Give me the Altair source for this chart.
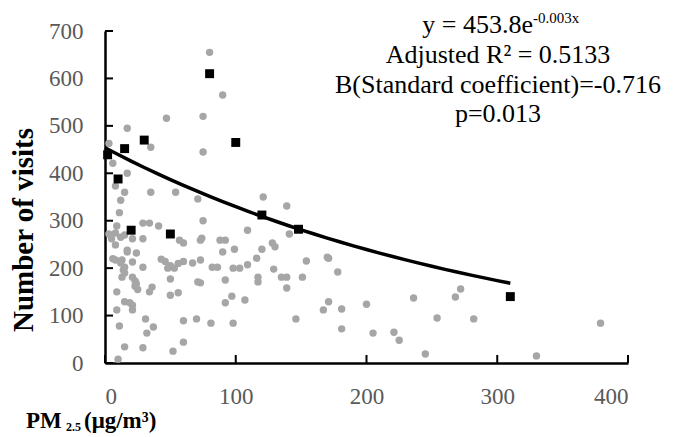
import altair as alt
import pandas as pd

# Gray scatter points (PM2.5, visits)
gray_x = [80, 90, 75, 47, 17, 3, 35, 75, 6, 17, 8, 15, 35, 54, 71, 12, 121, 139, 11, 75, 9, 29, 34, 41, 109, 141,
          3, 8, 15, 21, 29, 5, 12, 74, 88, 92, 57, 60, 73, 99, 90, 128, 130, 120, 116, 8, 17, 24, 17, 6, 13, 43, 8, 12,
          15, 21, 29, 46, 50, 53, 56, 60, 48, 67, 73, 82, 86, 98, 103, 109, 129, 135, 139, 151, 154, 171, 170, 178, 117,
          117, 139, 92, 71, 73, 50, 21, 23, 24, 23, 25, 13, 14, 15, 36, 34, 9, 15, 21, 19, 9, 21, 50, 56, 97, 92, 107,
          31, 37, 11, 60, 70, 81, 98, 32, 60, 15, 29, 52, 10, 146, 167, 171, 181, 181, 200, 205, 221, 225, 236, 254, 245,
          268, 272, 282, 330, 379]
gray_y = [655, 565, 520, 516, 495, 463, 455, 445, 421, 400, 373, 360, 360, 360, 346, 343, 350, 331, 317, 300, 289, 295,
          295, 289, 280, 272, 272, 274, 270, 262, 262, 262, 265, 263, 259, 259, 259, 253, 259, 240, 234, 253, 245, 240,
          221, 249, 238, 232, 234, 220, 217, 219, 217, 211, 202, 213, 202, 214, 205, 200, 210, 214, 200, 211, 217, 202,
          202, 200, 200, 207, 198, 181, 181, 181, 215, 221, 223, 192, 181, 171, 158, 175, 171, 169, 177, 181, 173, 167,
          162, 155, 181, 196, 190, 160, 150, 150, 129, 122, 127, 112, 112, 143, 148, 141, 127, 133, 93, 76, 78, 89, 93,
          84, 84, 63, 44, 34, 32, 25, 8, 93, 112, 129, 114, 72, 124, 63, 65, 48, 137, 95, 19, 139, 156, 93, 15, 84]

# Black square points
black_x = [2, 10, 15, 20, 30, 50, 80, 100, 120, 148, 310]
black_y = [439, 388, 452, 280, 470, 272, 610, 465, 312, 282, 140]

# Fitted curve y = a * exp(b * x) (b as drawn; label shows it rounded)
fit_a = 453.8
fit_b = -0.0032
fit_x_max = 310

y_ticks = [0, 100, 200, 300, 400, 500, 600, 700]
x_ticks = [0, 100, 200, 300, 400]

W, H = 523, 332
SERIF = "Liberation Serif"

gray_df = pd.DataFrame({"x": gray_x, "y": gray_y})
black_df = pd.DataFrame({"x": black_x, "y": black_y})

xs = alt.Scale(domain=[0, 400], nice=False)
ys = alt.Scale(domain=[0, 700], nice=False)

xaxis = alt.Axis(values=x_ticks, ticks=False, grid=False, domainColor="black", domainWidth=2.5,
                 labelFont=SERIF, labelFontSize=23, labelColor="#595959", labelPadding=22, title=None)
yaxis = alt.Axis(values=y_ticks, ticks=False, grid=False, domainColor="black", domainWidth=2.5,
                 labelFont=SERIF, labelFontSize=23, labelColor="#595959", labelPadding=22, title=None)

gray = alt.Chart(gray_df).mark_circle(size=55, color="#A6A6A6", opacity=1).encode(
    x=alt.X("x:Q", scale=xs, axis=xaxis),
    y=alt.Y("y:Q", scale=ys, axis=yaxis),
)

curve = alt.Chart(alt.sequence(0, fit_x_max + 1, 10, as_="x")).transform_calculate(
    y=f"{fit_a} * exp({fit_b} * datum.x)"
).mark_line(color="black", strokeWidth=3.5).encode(
    x=alt.X("x:Q", scale=xs), y=alt.Y("y:Q", scale=ys)
)

black = alt.Chart(black_df).mark_square(size=80, color="black", opacity=1).encode(
    x=alt.X("x:Q", scale=xs), y=alt.Y("y:Q", scale=ys)
)

yt = alt.Chart(pd.DataFrame({"v": y_ticks})).mark_rule(color="black", strokeWidth=2).encode(
    y=alt.Y("v:Q", scale=ys), x=alt.value(0), x2=alt.value(8)
)
xt = alt.Chart(pd.DataFrame({"v": x_ticks})).mark_rule(color="black", strokeWidth=2).encode(
    x=alt.X("v:Q", scale=xs), y=alt.value(H), y2=alt.value(H - 8)
)

def txt(s, x, y, size, align="left", weight="normal", angle=0):
    return alt.Chart(pd.DataFrame({"t": [s]})).mark_text(
        font=SERIF, fontSize=size, align=align, baseline="alphabetic", fontWeight=weight, color="black",
        angle=angle
    ).encode(text="t:N", x=alt.value(x), y=alt.value(y))

cx = 393
annot = [
    txt("y = 453.8e", 428, 2, 26, align="right"),
    txt("-0.003x", 428, -8, 15, align="left"),
    txt("Adjusted R² = 0.5133", cx, 32, 26, align="center"),
    txt("B(Standard coefficient)=-0.716", cx, 62, 26, align="center"),
    txt("p=0.013", cx, 91, 26, align="center"),
    txt("Number of visits", -72, 199, 29, align="center", weight="bold", angle=270),
    txt("PM", -79, 397, 23, weight="bold"),
    txt("2.5", -39, 400, 12, weight="bold"),
    txt("(μg/m³)", -21, 397, 23, weight="bold"),
]

chart = alt.layer(gray, curve, black, yt, xt, *annot).properties(
    width=W, height=H,
    autosize=alt.AutoSizeParams(type="none"),
    padding={"left": 97, "top": 23, "right": 37, "bottom": 76},
).configure_view(stroke=None)

chart.save("out.html", embed_options={"renderer": "svg", "actions": False})
